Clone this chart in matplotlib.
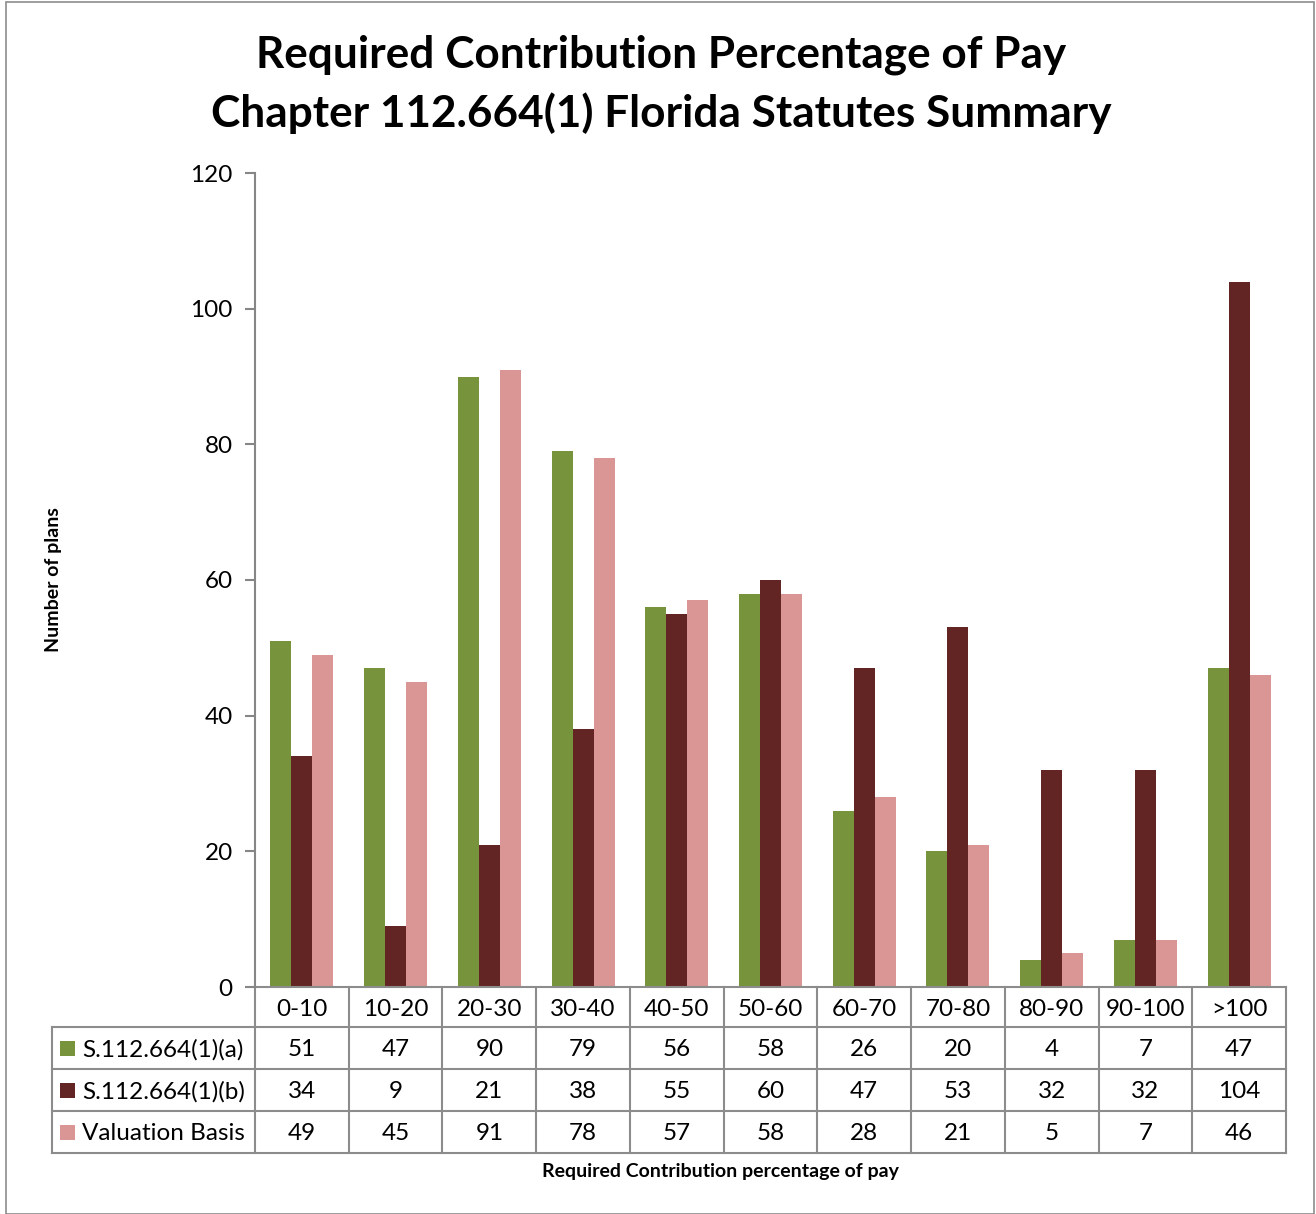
import matplotlib
matplotlib.use("Agg")
import matplotlib.pyplot as plt
from matplotlib.transforms import blended_transform_factory
from matplotlib.patches import Rectangle

categories = ["0-10", "10-20", "20-30", "30-40", "40-50", "50-60", "60-70", "70-80", "80-90", "90-100", ">100"]
series_names = ["S.112.664(1)(a)", "S.112.664(1)(b)", "Valuation Basis"]
s_a = [51, 47, 90, 79, 56, 58, 26, 20, 4, 7, 47]
s_b = [34, 9, 21, 38, 55, 60, 47, 53, 32, 32, 104]
s_val = [49, 45, 91, 78, 57, 58, 28, 21, 5, 7, 46]
series = [s_a, s_b, s_val]
colors = ["#77933C", "#632523", "#D99694"]

plt.rcParams['font.family'] = ['Lato', 'DejaVu Sans']

W, H = 1316, 1214
fig = plt.figure(figsize=(W / 100, H / 100), dpi=100)

# figure border
fig.patches.append(Rectangle((6 / W, 0), (1314 - 6) / W, 1 - 2 / H, transform=fig.transFigure,
                             fill=False, edgecolor="#8C8C8C", linewidth=1.2))

ax_l, ax_r, ax_t, ax_b = 255, 1286, 173, 987
ax = fig.add_axes([ax_l / W, 1 - ax_b / H, (ax_r - ax_l) / W, (ax_b - ax_t) / H])

n = len(categories)
bw = 0.224
for k, (vals, c) in enumerate(zip(series, colors)):
    xs = [i + (k - 1) * bw for i in range(n)]
    ax.bar(xs, vals, width=bw, color=c, edgecolor="none")

ax.set_xlim(-0.5, n - 0.5)
ax.set_ylim(0, 120)
ax.set_yticks(range(0, 121, 20))
ax.set_xticks([])
for s in ["top", "right", "bottom"]:
    ax.spines[s].set_visible(False)
ax.spines["left"].set_color("#868686")
ax.spines["left"].set_linewidth(1.5)
ax.tick_params(axis="y", length=7, width=1.5, color="#868686", labelsize=17.5, pad=9)

# title
fig.text(661 / W, 1 - 55 / H, "Required Contribution Percentage of Pay", ha="center", va="center",
         fontsize=31.8, fontweight="bold")
fig.text(661 / W, 1 - 113 / H, "Chapter 112.664(1) Florida Statutes Summary", ha="center", va="center",
         fontsize=31.8, fontweight="bold")

# axis labels
fig.text(53 / W, 1 - 580 / H, "Number of plans", rotation=90, ha="center", va="center",
         fontsize=14, fontweight="bold")
fig.text(720 / W, 1 - 1172 / H, "Required Contribution percentage of pay", ha="center", va="center",
         fontsize=14, fontweight="bold")

# data table
tr = blended_transform_factory(ax.transData, ax.transAxes)
ah = ax_b - ax_t
def yf(py):
    return (ax_b - py) / ah

cat_px = (ax_r - ax_l) / n
def xd(px):
    return (px - ax_l) / cat_px - 0.5

row_edges = [987, 1027, 1069, 1111, 1153]
lc = "#8C8C8C"
lw = 1.5
x_left = xd(52)
# horizontal lines
ax.plot([-0.5, n - 0.5], [yf(987)] * 2, color=lc, lw=lw, transform=tr, clip_on=False)
for ry in row_edges[1:]:
    ax.plot([x_left, n - 0.5], [yf(ry)] * 2, color=lc, lw=lw, transform=tr, clip_on=False)
# vertical lines
for i in range(n + 1):
    ax.plot([i - 0.5, i - 0.5], [yf(987), yf(1153)], color=lc, lw=lw, transform=tr, clip_on=False)
ax.plot([x_left, x_left], [yf(1027), yf(1153)], color=lc, lw=lw, transform=tr, clip_on=False)

# header
for i, c in enumerate(categories):
    ax.text(i, yf(1009), c, ha="center", va="center", fontsize=17.5, transform=tr)
# rows
for r, (name, vals, col) in enumerate(zip(series_names, series, colors)):
    ym = (row_edges[r + 1] + row_edges[r + 2]) / 2
    yc = yf(ym + 2)
    for i, v in enumerate(vals):
        ax.text(i, yc, str(v), ha="center", va="center", fontsize=17.5, transform=tr)
    ax.add_patch(Rectangle((xd(60), yf(ym) - 7.5 / ah), xd(75) - xd(60), 15 / ah, transform=tr,
                           facecolor=col, edgecolor="none", clip_on=False))
    ax.text(xd(82), yc, name, ha="left", va="center", fontsize=17.5, transform=tr)

fig.savefig("out.png", dpi=100)
